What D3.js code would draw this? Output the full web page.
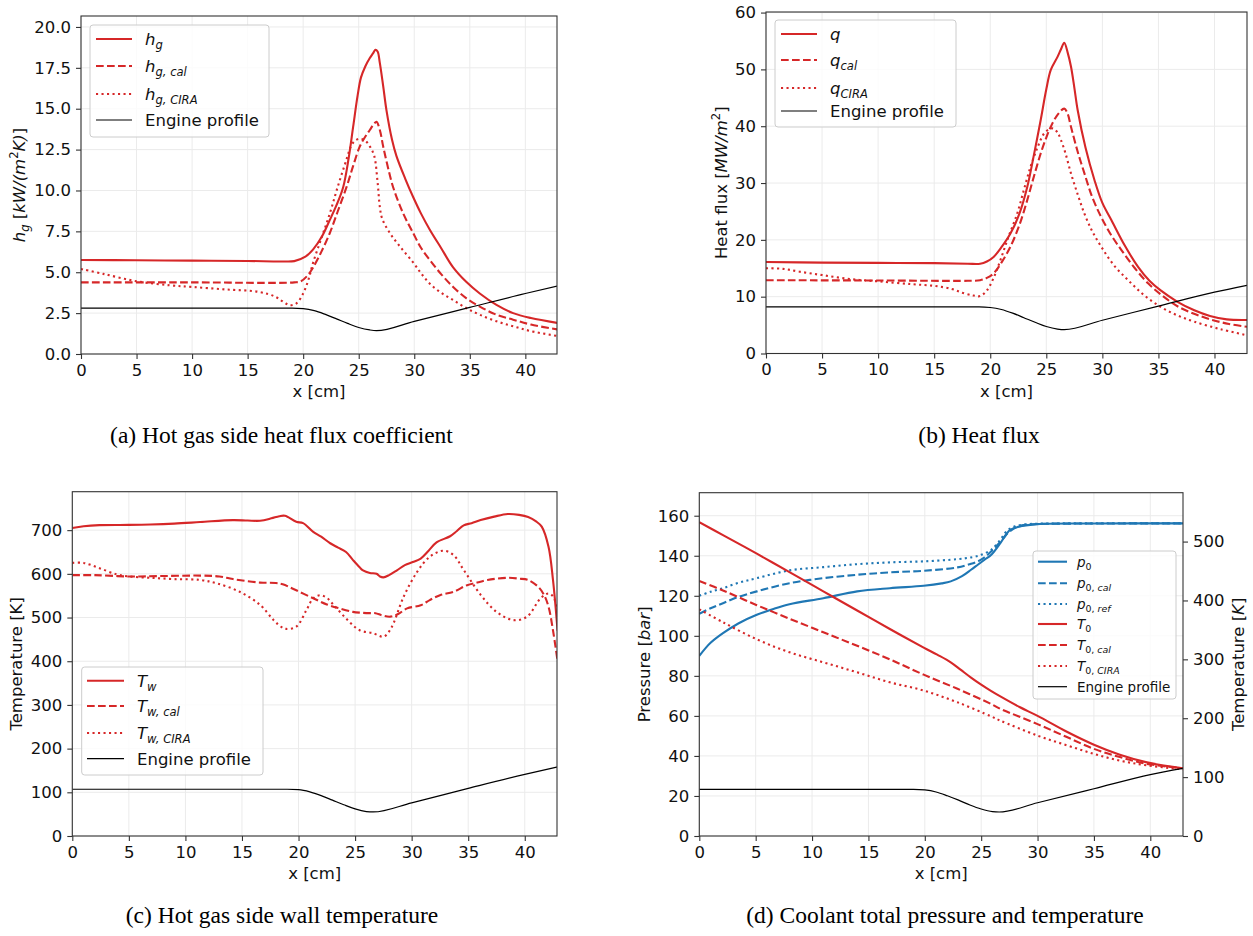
<!DOCTYPE html>
<html>
<head>
<meta charset="utf-8">
<script src="https://cdn.jsdelivr.net/npm/d3@7"></script>
<style>
  html, body { margin: 0; padding: 0; background: #fff; }
  text { white-space: pre; }
</style>
</head>
<body>
<script>
// ---------- data (x in cm) ----------
const xTicks = [0, 5, 10, 15, 20, 25, 30, 35, 40];

// (a) hot gas side heat transfer coefficient [kW/(m^2 K)]
const hg = [[0,5.75],[5,5.73],[10,5.71],[15,5.69],[18,5.66],[19.2,5.68],[20.2,5.95],[20.9,6.4],[21.7,7.2],[22.4,8.2],[23.0,9.1],[23.6,10.2],[24.1,12.0],[24.5,13.9],[24.9,15.8],[25.2,16.9],[25.6,17.6],[26.0,18.1],[26.3,18.4],[26.5,18.6],[26.7,18.5],[26.9,17.8],[27.2,16.4],[27.5,14.9],[28.0,13.1],[28.4,12.1],[29.2,10.7],[29.9,9.6],[30.6,8.6],[31.4,7.6],[32.4,6.5],[33.5,5.3],[34.7,4.4],[35.9,3.7],[37.4,3.0],[38.9,2.5],[40.5,2.2],[42.9,1.9]];
const hgCal = [[0,4.38],[10,4.38],[19.2,4.38],[19.8,4.45],[20.4,4.8],[20.9,5.3],[21.6,6.2],[22.4,7.4],[23.1,8.7],[23.9,10.2],[24.5,11.5],[25.1,12.7],[25.6,13.3],[26.0,13.7],[26.4,14.1],[26.6,14.2],[26.9,13.7],[27.2,12.7],[27.6,11.5],[28.1,10.2],[29.0,8.6],[29.9,7.4],[30.6,6.5],[31.4,5.75],[32.4,4.9],[33.5,4.1],[34.7,3.4],[35.9,2.9],[37.4,2.4],[38.9,2.1],[40.5,1.8],[42.9,1.5]];
const hgCira = [[0,5.2],[2,4.9],[5,4.45],[8,4.2],[10,4.1],[13,3.95],[16,3.8],[17.5,3.5],[18.3,3.15],[18.8,2.98],[19.4,3.1],[20.0,3.7],[20.5,4.6],[20.9,5.6],[21.6,7.0],[22.4,8.6],[23.1,10.2],[23.9,11.9],[24.3,12.7],[24.6,13.0],[25.0,13.15],[25.5,13.1],[26.0,12.7],[26.4,12.1],[26.7,10.5],[26.9,9.0],[27.1,8.3],[27.8,7.4],[28.8,6.5],[29.9,5.6],[30.6,4.95],[31.4,4.3],[32.4,3.75],[33.5,3.3],[34.7,2.8],[35.9,2.4],[37.4,2.0],[38.9,1.7],[40.5,1.4],[42.9,1.1]];

// (b) heat flux [MW/m^2]
const q = [[0,16.1],[5,16.0],[10,15.95],[15,15.9],[18,15.8],[19.1,15.8],[19.7,16.2],[20.3,17.0],[21.0,18.7],[21.8,21.1],[22.6,24.6],[23.3,29.3],[23.9,35.0],[24.5,41.1],[25.0,46.5],[25.4,49.9],[26.0,52.2],[26.3,53.5],[26.6,54.7],[26.9,53.0],[27.2,50.5],[27.5,46.8],[27.8,42.8],[28.5,36.2],[29.3,30.5],[30.0,26.5],[30.8,23.5],[32.0,19.0],[33.2,15.2],[34.2,12.8],[35.2,11.1],[36.7,9.1],[38.2,7.6],[39.6,6.6],[41.1,6.0],[42.9,5.9]];
const qCal = [[0,12.9],[10,12.85],[18,12.8],[19.1,12.9],[19.7,13.3],[20.3,14.1],[21.0,16.0],[21.8,18.8],[22.6,22.6],[23.3,27.0],[23.9,31.2],[24.5,35.2],[25.0,38.0],[25.4,39.9],[26.0,42.0],[26.6,43.1],[26.9,42.2],[27.2,39.9],[27.8,35.5],[28.4,31.7],[29.1,27.5],[29.9,24.0],[30.8,20.8],[31.7,18.2],[32.9,15.0],[34.1,12.3],[35.4,10.1],[36.8,8.2],[38.3,6.9],[39.8,5.9],[41.3,5.2],[42.9,4.7]];
const qCira = [[0,15.0],[1.5,14.9],[3,14.4],[5,13.8],[7.5,13.1],[10,12.7],[13,12.2],[15,11.9],[16.5,11.4],[17.5,10.7],[18.5,10.2],[19.1,10.1],[19.7,11.1],[20.3,13.3],[20.9,16.4],[21.6,20.4],[22.4,24.6],[23.0,28.8],[23.6,32.9],[24.2,36.2],[24.8,38.7],[25.3,39.5],[25.6,39.6],[26.0,38.9],[26.3,37.6],[26.7,35.3],[27.2,31.7],[27.8,28.0],[28.4,24.6],[29.1,21.5],[29.9,18.8],[31.0,15.6],[32.3,12.9],[33.7,10.3],[35.2,8.2],[36.7,6.7],[38.2,5.6],[40.5,4.3],[42.9,3.2]];

// (c) hot gas side wall temperature [K]
const tw = [[0,705],[1,709],[2.4,711.5],[5,712],[6.9,713],[9,715],[11.3,718.5],[14.2,723],[15.5,722],[16.6,721.5],[17.6,727],[18.3,732],[18.8,733],[19.8,719],[20.4,716],[21.3,696],[22.0,685],[22.8,670],[23.5,660],[24.2,650],[24.8,632],[25.4,615],[25.7,608],[26.3,602],[26.9,600],[27.2,594],[27.5,592],[28.0,597],[28.7,608],[29.4,620],[30.1,627],[30.8,635],[31.5,653],[32.2,672],[33.4,686],[34.0,698],[34.6,711],[35.3,716],[36.1,723],[37.3,731],[38.5,737],[39.5,735],[40.3,730],[41.0,720],[41.5,708],[42.1,662],[42.5,585],[42.9,470]];
const twCal = [[0,597],[2,597],[5,594],[8,595],[11.3,596],[13,594],[14.2,588],[16.6,580],[18.0,579],[18.6,576],[19.5,566],[21.3,544],[22.5,530],[23.6,521],[24.8,513],[25.5,511],[26.3,510],[26.8,510],[27.4,505],[28.1,502],[28.8,508],[29.6,521],[30.8,528],[31.6,540],[32.5,551],[33.7,559],[34.9,574],[35.8,580],[36.7,586],[38.5,591],[39.5,589],[40.3,586],[41.2,570],[41.7,552],[42.1,525],[42.5,470],[42.9,400]];
const twCira = [[0,625],[1.0,625],[2.4,613],[3.9,599],[5,594],[6.9,591],[9,588],[11.3,586],[12.8,578],[14.8,559],[16.6,529],[17.8,494],[18.5,478],[18.9,474],[19.8,479],[20.7,517],[21.3,544],[21.9,551],[22.5,545],[23.1,529],[24.2,498],[25.4,471],[26.6,464],[27.5,456],[28.0,468],[28.4,487],[29.3,548],[30.5,605],[31.6,639],[32.8,653],[33.7,643],[34.6,609],[36.1,552],[37.5,513],[39.0,494],[40.2,502],[41.4,544],[42.1,555],[42.5,548],[42.9,520]];

// (d) coolant total pressure [bar] and total temperature [K]
const p0 = [[0,90],[0.5,93.5],[1,96.5],[2.1,101.3],[3.5,106.3],[5.1,110.5],[6.5,113.3],[8.0,115.8],[11.0,118.8],[14.0,122.2],[16.9,123.8],[19.9,125.0],[21.5,126.2],[22.3,127.2],[23.3,129.8],[24.1,133],[24.7,135.5],[25.3,138],[25.9,140.5],[26.7,146.3],[27.2,150.5],[27.6,153],[28.5,154.7],[30.0,155.8],[35,156.1],[42.9,156.2]];
const p0Cal = [[0,111],[1,113.8],[2.1,116.3],[3.5,119.5],[5.1,122.2],[8.0,126.3],[11.0,128.8],[14.0,130.5],[16.9,131.7],[19.9,132.5],[22.9,134.2],[24.0,135.8],[24.7,137.2],[25.3,139.2],[25.9,142.2],[26.7,147],[27.4,151.5],[28.2,154.5],[29,155.5],[30,155.9],[35,156.1],[42.9,156.2]];
const p0Ref = [[0,120],[1,122],[2.1,123.8],[3.5,126.5],[5.1,128.8],[8.0,132.7],[11.0,134.3],[14.0,135.8],[16.9,136.7],[19.9,137.2],[22.9,138.3],[24.2,139.3],[25.0,140.5],[25.9,143],[26.7,148],[27.3,152.5],[28.0,154.7],[29,155.7],[30,156.0],[35,156.2],[42.9,156.2]];
const t0 = [[0,533],[2.1,511],[5.1,479.5],[8.0,448],[11.0,415.5],[14.0,383],[16.9,351.5],[19.9,320],[21.1,308],[22.3,295],[23.2,282],[24.1,269],[25.0,257],[25.9,246],[26.7,237],[28.4,219],[30.0,204],[32.6,177],[35.0,155],[37.3,138],[39.7,125],[42.9,115]];
const t0Cal = [[0,433],[2.1,417],[5.1,392],[8.0,369],[11.0,346],[14.0,323],[16.9,300],[19.9,274],[22.9,250],[25.9,224],[26.7,216],[30.0,190],[32.6,168],[35.0,148],[37.3,134],[39.7,122.5],[42.9,115]];
const t0Cira = [[0,385],[2.1,363],[5.1,334],[8.0,312],[11.0,295],[14.0,278],[16.9,261],[19.9,247],[22.9,227],[25.9,203],[26.7,196],[30.0,170.5],[32.6,154],[35.0,139.5],[37.3,128],[39.7,120],[42.9,113]];

// engine contour, drawn in each panel's own units
const engineX = [0, 19, 20, 21, 22, 23, 24, 25, 26, 26.6, 30, 35, 40, 42.9];
const engineA = [2.8, 2.8, 2.77, 2.65, 2.42, 2.15, 1.87, 1.62, 1.47, 1.43, 2.0, 2.85, 3.7, 4.16];
const engineB = [8.2, 8.2, 8.1, 7.75, 7.1, 6.3, 5.5, 4.75, 4.3, 4.2, 5.85, 8.35, 10.8, 12.0];
const engineC = [107, 107, 106, 101, 92.5, 82, 71.5, 62, 56, 55, 76, 109, 141, 158];
const engineD = [23.3, 23.3, 23.0, 22.0, 20.1, 17.9, 15.5, 13.5, 12.2, 12.0, 16.6, 23.6, 30.7, 33.8];
const pairs = (xs, vs) => xs.map((xv, i) => [xv, vs[i]]);

// ---------- drawing ----------
const W = 1253, H = 936;
const RED = "#d62728", BLUE = "#1f77b4", INK = "#111", SPINE = "#333";
const FS = 16.5;
const svg = d3.select("body").append("svg").attr("width", W).attr("height", H)
  .style("font-family", "'DejaVu Sans', sans-serif");
svg.append("rect").attr("width", W).attr("height", H).attr("fill", "#fff");
const defs = svg.append("defs");

const dashFor = {
  solid: null,
  dashed: "7.7,3.3",
  dotted: "2.1,3.4"
};

// text with italic / sub / superscript parts
function rich(textSel, parts, fs) {
  let shift = 0;
  parts.forEach(([s, k]) => {
    const t = textSel.append("tspan").text(s);
    let target = 0, size = fs;
    if (k.startsWith("sb")) { target = 0.24 * fs; size = 0.7 * fs; }
    if (k === "sp") { target = -0.4 * fs; size = 0.7 * fs; }
    t.attr("font-size", size);
    if (target - shift !== 0) t.attr("dy", target - shift);
    shift = target;
    if (k.includes("i")) t.attr("font-style", "italic");
  });
}

function drawPanel(p) {
  const g = svg.append("g");
  const x = d3.scaleLinear().domain([0, p.xMax]).range([p.left, p.right]);
  const y = d3.scaleLinear().domain([0, p.yMax]).range([p.bottom, p.top]);
  const y2 = p.y2Max ? d3.scaleLinear().domain([0, p.y2Max]).range([p.bottom, p.top]) : null;

  // grid
  const grid = g.append("g").attr("stroke", "#ebebeb").attr("stroke-width", 1);
  grid.selectAll(".gx").data(xTicks).join("line")
    .attr("x1", d => x(d)).attr("x2", d => x(d)).attr("y1", p.top).attr("y2", p.bottom);
  grid.selectAll(".gy").data(p.yTicks).join("line")
    .attr("y1", d => y(d)).attr("y2", d => y(d)).attr("x1", p.left).attr("x2", p.right);

  // clip to axes
  const cid = "clip-" + p.id;
  defs.append("clipPath").attr("id", cid).append("rect")
    .attr("x", p.left).attr("y", p.top).attr("width", p.right - p.left).attr("height", p.bottom - p.top);

  const lines = g.append("g").attr("clip-path", `url(#${cid})`);
  p.series.forEach(s => {
    const ys = s.axis === "right" ? y2 : y;
    const curve = s.engine ? d3.curveMonotoneX : d3.curveCatmullRom.alpha(0.5);
    const line = d3.line().x(d => x(d[0])).y(d => ys(d[1])).curve(curve);
    lines.append("path").attr("d", line(s.data))
      .attr("fill", "none").attr("stroke", s.color)
      .attr("stroke-width", s.width || 2.1)
      .attr("stroke-linejoin", "round")
      .attr("stroke-dasharray", dashFor[s.style || "solid"]);
  });

  // axes
  const styleAxis = sel => {
    sel.select(".domain").remove();
    sel.selectAll(".tick line").attr("stroke", SPINE).attr("stroke-width", 1.1);
    sel.selectAll(".tick text").attr("fill", INK).attr("font-size", FS)
      .attr("font-family", "'DejaVu Sans', sans-serif");
  };
  g.append("g").attr("transform", `translate(0,${p.bottom})`)
    .call(d3.axisBottom(x).tickValues(xTicks).tickFormat(d3.format("d")).tickSize(5).tickPadding(5))
    .call(styleAxis);
  g.append("g").attr("transform", `translate(${p.left},0)`)
    .call(d3.axisLeft(y).tickValues(p.yTicks).tickFormat(p.yFmt).tickSize(5).tickPadding(5))
    .call(styleAxis);
  if (y2) {
    g.append("g").attr("transform", `translate(${p.right},0)`)
      .call(d3.axisRight(y2).tickValues(p.y2Ticks).tickFormat(d3.format("d")).tickSize(5).tickPadding(5))
      .call(styleAxis);
  }
  g.append("rect").attr("x", p.left).attr("y", p.top)
    .attr("width", p.right - p.left).attr("height", p.bottom - p.top)
    .attr("fill", "none").attr("stroke", SPINE).attr("stroke-width", 1.1);

  // axis titles
  const xl = g.append("text").attr("x", (p.left + p.right) / 2).attr("y", p.bottom + 43)
    .attr("text-anchor", "middle").attr("fill", INK).attr("font-size", FS);
  rich(xl, [["x [cm]", "r"]], FS);

  const yl = g.append("text")
    .attr("transform", `translate(${p.yLabelX},${(p.top + p.bottom) / 2}) rotate(-90)`)
    .attr("text-anchor", "middle").attr("fill", INK).attr("font-size", FS);
  rich(yl, p.yLabel, FS);

  if (p.y2Label) {
    const yl2 = g.append("text")
      .attr("transform", `translate(${p.y2LabelX},${(p.top + p.bottom) / 2}) rotate(-90)`)
      .attr("text-anchor", "middle").attr("fill", INK).attr("font-size", FS);
    rich(yl2, p.y2Label, FS);
  }

  // legend
  const L = p.legend;
  const lg = g.append("g");
  lg.append("rect").attr("x", L.x).attr("y", L.y).attr("width", L.w).attr("height", L.h)
    .attr("rx", 3).attr("fill", "#fff").attr("fill-opacity", 0.8)
    .attr("stroke", "#cccccc").attr("stroke-width", 1);
  L.rows.forEach(r => {
    const s = p.series[r.s];
    lg.append("line").attr("x1", L.lx0).attr("x2", L.lx1).attr("y1", r.y).attr("y2", r.y)
      .attr("stroke", s.color).attr("stroke-width", s.width || 2.1)
      .attr("stroke-dasharray", dashFor[s.style || "solid"]);
    const t = lg.append("text").attr("x", L.tx).attr("y", r.y + 0.36 * L.fs)
      .attr("fill", INK).attr("font-size", L.fs);
    rich(t, r.label, L.fs);
  });

  // caption
  svg.append("text").attr("x", p.capX).attr("y", p.capY).attr("text-anchor", "middle")
    .attr("font-family", "'Liberation Serif', 'Times New Roman', serif")
    .attr("font-size", 23.5).attr("fill", "#000").text(p.caption);
}

// (a)
drawPanel({
  id: "a", left: 81, right: 557, top: 16, bottom: 354, xMax: 42.85, yMax: 20.67,
  yTicks: [0, 2.5, 5, 7.5, 10, 12.5, 15, 17.5, 20], yFmt: d3.format(".1f"),
  yLabelX: 25,
  yLabel: [["h", "i"], ["g", "sbi"], [" [", "r"], ["kW/(m", "i"], ["2", "sp"], ["K)", "i"], ["]", "r"]],
  series: [
    { data: hg, color: RED, style: "solid" },
    { data: hgCal, color: RED, style: "dashed" },
    { data: hgCira, color: RED, style: "dotted" },
    { data: pairs(engineX, engineA), color: "#000", style: "solid", width: 1.2, engine: true }
  ],
  legend: { x: 90, y: 25, w: 179, h: 112, lx0: 96, lx1: 132, tx: 145, fs: FS,
    rows: [
      { s: 0, y: 39, label: [["h", "i"], ["g", "sbi"]] },
      { s: 1, y: 66, label: [["h", "i"], ["g, cal", "sbi"]] },
      { s: 2, y: 94, label: [["h", "i"], ["g, CIRA", "sbi"]] },
      { s: 3, y: 120, label: [["Engine profile", "r"]] }
    ] },
  caption: "(a) Hot gas side heat flux coefficient", capX: 281.5, capY: 443
});

// (b)
drawPanel({
  id: "b", left: 766, right: 1247, top: 12, bottom: 353.5, xMax: 42.9, yMax: 60.1,
  yTicks: [0, 10, 20, 30, 40, 50, 60], yFmt: d3.format("d"),
  yLabelX: 727,
  yLabel: [["Heat flux [", "r"], ["MW/m", "i"], ["2", "sp"], ["]", "r"]],
  series: [
    { data: q, color: RED, style: "solid" },
    { data: qCal, color: RED, style: "dashed" },
    { data: qCira, color: RED, style: "dotted" },
    { data: pairs(engineX, engineB), color: "#000", style: "solid", width: 1.2, engine: true }
  ],
  legend: { x: 775, y: 20, w: 181, h: 107, lx0: 781, lx1: 817, tx: 830, fs: FS,
    rows: [
      { s: 0, y: 34, label: [["q", "i"]] },
      { s: 1, y: 60, label: [["q", "i"], ["cal", "sbi"]] },
      { s: 2, y: 88, label: [["q", "i"], ["CIRA", "sbi"]] },
      { s: 3, y: 111, label: [["Engine profile", "r"]] }
    ] },
  caption: "(b) Heat flux", capX: 979, capY: 443
});

// (c)
drawPanel({
  id: "c", left: 72.3, right: 557, top: 491.7, bottom: 836, xMax: 42.85, yMax: 788,
  yTicks: [0, 100, 200, 300, 400, 500, 600, 700], yFmt: d3.format("d"),
  yLabelX: 22,
  yLabel: [["Temperature [K]", "r"]],
  series: [
    { data: tw, color: RED, style: "solid" },
    { data: twCal, color: RED, style: "dashed" },
    { data: twCira, color: RED, style: "dotted" },
    { data: pairs(engineX, engineC), color: "#000", style: "solid", width: 1.2, engine: true }
  ],
  legend: { x: 81.7, y: 667, w: 181.3, h: 108, lx0: 87, lx1: 124, tx: 137, fs: FS,
    rows: [
      { s: 0, y: 680.7, label: [["T", "i"], ["w", "sbi"]] },
      { s: 1, y: 706, label: [["T", "i"], ["w, cal", "sbi"]] },
      { s: 2, y: 733, label: [["T", "i"], ["w, CIRA", "sbi"]] },
      { s: 3, y: 758.7, label: [["Engine profile", "r"]] }
    ] },
  caption: "(c) Hot gas side wall temperature", capX: 282, capY: 923
});

// (d)
drawPanel({
  id: "d", left: 699.3, right: 1183, top: 492.7, bottom: 836, xMax: 42.9, yMax: 171.5,
  yTicks: [0, 20, 40, 60, 80, 100, 120, 140, 160], yFmt: d3.format("d"),
  y2Max: 583, y2Ticks: [0, 100, 200, 300, 400, 500],
  yLabelX: 650,
  yLabel: [["Pressure [", "r"], ["bar", "i"], ["]", "r"]],
  y2LabelX: 1244,
  y2Label: [["Temperature [", "r"], ["K", "i"], ["]", "r"]],
  series: [
    { data: p0, color: BLUE, style: "solid" },
    { data: p0Cal, color: BLUE, style: "dashed" },
    { data: p0Ref, color: BLUE, style: "dotted" },
    { data: t0, color: RED, style: "solid", axis: "right" },
    { data: t0Cal, color: RED, style: "dashed", axis: "right" },
    { data: t0Cira, color: RED, style: "dotted", axis: "right" },
    { data: pairs(engineX, engineD), color: "#000", style: "solid", width: 1.2, engine: true }
  ],
  legend: { x: 1033, y: 551, w: 143, h: 148, lx0: 1038, lx1: 1067, tx: 1077, fs: 13.5,
    rows: [
      { s: 0, y: 561.7, label: [["p", "i"], ["0", "sb"]] },
      { s: 1, y: 583.3, label: [["p", "i"], ["0, ", "sb"], ["cal", "sbi"]] },
      { s: 2, y: 604, label: [["p", "i"], ["0, ", "sb"], ["ref", "sbi"]] },
      { s: 3, y: 624, label: [["T", "i"], ["0", "sb"]] },
      { s: 4, y: 645, label: [["T", "i"], ["0, ", "sb"], ["cal", "sbi"]] },
      { s: 5, y: 666, label: [["T", "i"], ["0, ", "sb"], ["CIRA", "sbi"]] },
      { s: 6, y: 686.7, label: [["Engine profile", "r"]] }
    ] },
  caption: "(d) Coolant total pressure and temperature", capX: 945, capY: 923
});
</script>
</body>
</html>
